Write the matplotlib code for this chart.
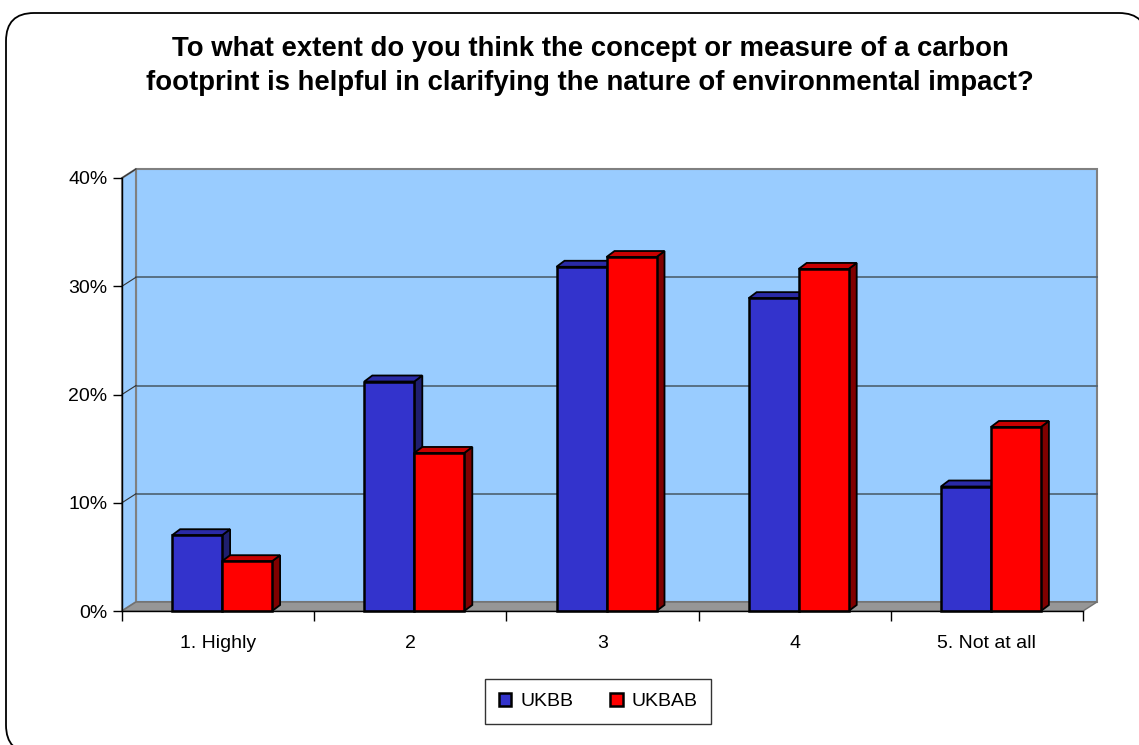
import numpy as np
import matplotlib.pyplot as plt
from matplotlib.patches import Polygon, Rectangle, FancyBboxPatch
from matplotlib.transforms import IdentityTransform

categories = ['1. Highly', '2', '3', '4', '5. Not at all']
series_names = ['UKBB', 'UKBAB']
ukbb = [7.0, 21.2, 31.8, 28.9, 11.5]
ukbab = [4.6, 14.6, 32.7, 31.6, 17.0]
yticks = [0, 10, 20, 30, 40]
title = ('To what extent do you think the concept or measure of a carbon\n'
         'footprint is helpful in clarifying the nature of environmental impact?')

plt.rcParams['font.family'] = ['Liberation Sans', 'DejaVu Sans']

W, H = 1139, 745
fig = plt.figure(figsize=(W / 100, H / 100), dpi=100)
fig.patch.set_facecolor('white')

# front plane of the plot, in pixels
L, R, B, T = 122, 1083, 611, 178
ax = fig.add_axes([L / W, 1 - B / H, (R - L) / W, (B - T) / H])
ncat = len(categories)
ymax = yticks[-1]
ax.set_xlim(0, ncat)
ax.set_ylim(0, ymax)
ax.patch.set_visible(False)

sx = ncat / (R - L)   # data units per pixel
sy = ymax / (B - T)

# walls and floor (3d depth offset)
wdx, wdy = 14 * sx, 9 * sy
wall = '#99CCFF'
ax.add_patch(Rectangle((wdx, wdy), ncat, ymax, facecolor=wall, edgecolor='#808080',
                       lw=1.5, zorder=0, clip_on=False))
ax.add_patch(Polygon([(0, 0), (wdx, wdy), (wdx, ymax + wdy), (0, ymax)], closed=True,
                     facecolor=wall, edgecolor='#808080', lw=1.5, zorder=0, clip_on=False))
ax.add_patch(Polygon([(0, 0), (ncat, 0), (ncat + wdx, wdy), (wdx, wdy)], closed=True,
                     facecolor='#969696', edgecolor='#707070', lw=1, zorder=0.5, clip_on=False))
for yv in yticks[1:-1]:
    ax.plot([wdx, ncat + wdx], [yv + wdy, yv + wdy], color='#4D6070', lw=1.2, zorder=0.6,
            clip_on=False)
for yv in yticks[1:]:
    ax.plot([0, wdx], [yv, yv + wdy], color='#333333', lw=0.8, zorder=0.6, clip_on=False)

# bars
bw = 50 * sx
shift = 4 * sx
bdx, bdy = 8 * sx, 6 * sy
x = np.arange(ncat) + 0.5 + shift
styles = [('#3333CC', '#2A2AA6', '#1F1F6E'), ('#FF0000', '#C80000', '#800000')]
for k, (vals, (front, top, side)) in enumerate(zip([ukbb, ukbab], styles)):
    x0s = x - bw + k * bw
    for x0, h in zip(x0s, vals):
        x1 = x0 + bw
        ax.add_patch(Polygon([(x1, 0), (x1 + bdx, bdy), (x1 + bdx, h + bdy), (x1, h)],
                             closed=True, facecolor=side, edgecolor='black', lw=1.3,
                             zorder=2 + k * 0.5, clip_on=False))
        ax.add_patch(Polygon([(x0, h), (x0 + bdx, h + bdy), (x1 + bdx, h + bdy), (x1, h)],
                             closed=True, facecolor=top, edgecolor='black', lw=1.3,
                             zorder=2 + k * 0.5, clip_on=False))
    ax.bar(x0s, vals, width=bw, align='edge', color=front, edgecolor='black', lw=1.8,
           zorder=3, label=series_names[k], clip_on=False)

# axes
for s in ['top', 'right']:
    ax.spines[s].set_visible(False)
for s in ['left', 'bottom']:
    ax.spines[s].set_color('black')
    ax.spines[s].set_linewidth(1)
    ax.spines[s].set_zorder(4)
ax.set_yticks(yticks)
ax.set_yticklabels([f'{v}%' for v in yticks], fontsize=14)
ax.tick_params(axis='y', direction='out', length=6.5, width=1, pad=4)
ax.set_xticks(np.arange(ncat + 1))
ax.set_xticklabels([])
ax.set_xticks(np.arange(ncat) + 0.5, minor=True)
ax.set_xticklabels(categories, minor=True, fontsize=14)
ax.tick_params(axis='x', which='major', direction='out', length=7.5, width=1)
ax.tick_params(axis='x', which='minor', length=0, pad=17)

fig.text(590 / W, 1 - 66 / H, title, ha='center', va='center', fontsize=19.8,
         fontweight='bold', linespacing=1.36)

handles, labels = ax.get_legend_handles_labels()
leg = fig.legend(handles, labels, loc='center', bbox_to_anchor=(598 / W, 1 - 701.5 / H),
                 ncol=2, fontsize=14, frameon=True, fancybox=False, edgecolor='black',
                 handlelength=0.65, handleheight=0.65, handletextpad=0.45, columnspacing=1.9,
                 borderpad=0.72, borderaxespad=0)
leg.get_frame().set_linewidth(1)

# rounded outer border (filled white and kept behind so Agg does not clip the curve)
border = FancyBboxPatch((6, -8), 1141, 745 - 13 + 8,
                        boxstyle='round,pad=0,rounding_size=28',
                        facecolor='white', edgecolor='black', lw=1.3,
                        transform=IdentityTransform(), figure=fig, zorder=-10)
fig.patches.append(border)

fig.savefig('out.png', dpi=100)
